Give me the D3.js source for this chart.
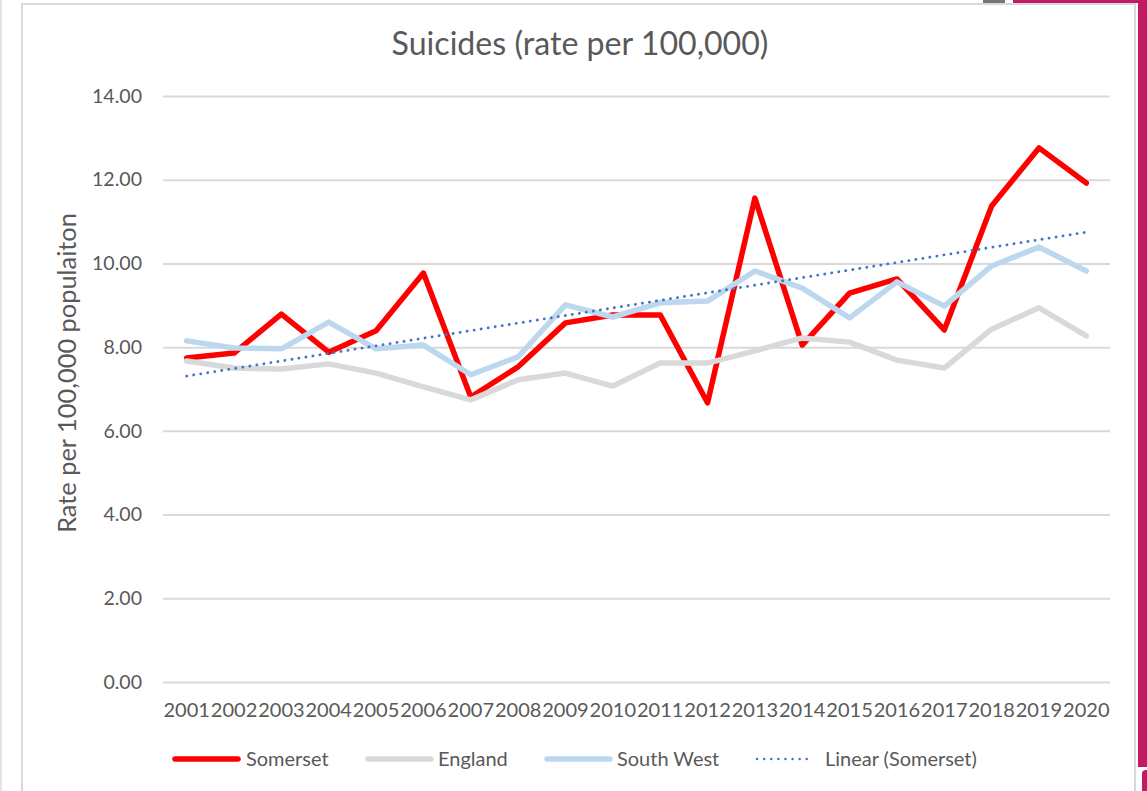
<!DOCTYPE html>
<html>
<head>
<meta charset="utf-8">
<script src="https://cdn.jsdelivr.net/npm/d3@7"></script>
<style>
  body { margin: 0; background: #ffffff; }
  text { font-family: Lato, "Open Sans", sans-serif; fill: #595959; }
</style>
</head>
<body>
<div class="chart"></div>
<script>
// chart values
let years = ["2001","2002","2003","2004","2005","2006","2007","2008","2009","2010",
             "2011","2012","2013","2014","2015","2016","2017","2018","2019","2020"];
let somerset  = [7.74,7.86,8.79,7.88,8.39,9.77,6.81,7.53,8.58,8.77,8.77,6.67,11.56,8.05,9.29,9.63,8.41,11.37,12.76,11.92];
let england   = [7.67,7.50,7.48,7.60,7.38,7.05,6.74,7.22,7.38,7.07,7.62,7.62,7.91,8.22,8.12,7.69,7.50,8.43,8.94,8.27];
let southWest = [8.15,7.98,7.96,8.60,7.96,8.05,7.34,7.77,9.01,8.72,9.06,9.10,9.82,9.41,8.70,9.56,8.98,9.94,10.39,9.82];
let yTicks = [0, 2, 4, 6, 8, 10, 12, 14];
let seriesNames = ["Somerset", "England", "South West", "Linear (Somerset)"];

let svgWidth = 1147;
let svgHeight = 791;
let plot = {left: 163, right: 1110, top: 96, bottom: 682};

let svg = d3.select(".chart").append("svg")
  .attr("width", svgWidth).attr("height", svgHeight)
  .style("display", "block");

// screenshot surroundings
svg.append("rect").attr("x", 0).attr("y", 0).attr("width", 2).attr("height", svgHeight).attr("fill", "#e4e4e4");
svg.append("rect").attr("x", 983).attr("y", 0).attr("width", 22).attr("height", 3).attr("fill", "#767676");
svg.append("rect").attr("x", 1013).attr("y", 0).attr("width", 134).attr("height", 3).attr("fill", "#c31a64");
svg.append("rect").attr("x", 1138).attr("y", 0).attr("width", 9).attr("height", 767).attr("fill", "#c31a64");
svg.append("rect").attr("x", 1142).attr("y", 770).attr("width", 10).attr("height", 30).attr("rx", 4).attr("fill", "#c31a64");

// chart frame
svg.append("rect")
  .attr("x", 22).attr("y", 4).attr("width", 1113).attr("height", 820)
  .attr("fill", "#ffffff").attr("stroke", "#d9d9d9").attr("stroke-width", 2);

// scales
let xBand = d3.scaleBand().domain(years).range([plot.left, plot.right]).padding(0);
let x = d => xBand(d) + xBand.bandwidth() / 2;
let y = d3.scaleLinear().domain([0, 14]).range([plot.bottom, plot.top]);

// fit a text's font size so its width matches a target
function fitFont(sel, target) {
  let fs = parseFloat(sel.attr("font-size"));
  let w = sel.node().getComputedTextLength();
  let size = fs * target / w;
  sel.attr("font-size", size);
  return size;
}

// probe sizes
let probe = svg.append("text").attr("font-size", 20).text("2001");
let yearSize = fitFont(probe, 46.5);
probe.attr("font-size", 20).text("14.00");
let tickSize = fitFont(probe, 50);
probe.remove();

// y axis with gridlines
let leftAxis = d3.axisLeft(y)
  .tickValues(yTicks)
  .tickFormat(d3.format(".2f"))
  .tickSize(-(plot.right - plot.left))
  .tickPadding(21);

let yAxisG = svg.append("g")
  .attr("class", "y-axis")
  .attr("transform", `translate(${plot.left},0)`)
  .call(leftAxis);
yAxisG.select(".domain").remove();
yAxisG.selectAll(".tick line").attr("stroke", "#d9d9d9").attr("stroke-width", 2);
yAxisG.selectAll(".tick text")
  .attr("font-size", tickSize)
  .attr("font-family", "Lato, 'Open Sans', sans-serif")
  .attr("fill", "#595959");

// x axis labels
let bottomAxis = d3.axisBottom(xBand).tickSize(0).tickPadding(0);
let xAxisG = svg.append("g")
  .attr("class", "x-axis")
  .attr("transform", `translate(0,${plot.bottom})`)
  .call(bottomAxis);
xAxisG.select(".domain").remove();
xAxisG.selectAll(".tick text")
  .attr("y", 35).attr("dy", null)
  .attr("font-size", yearSize)
  .attr("font-family", "Lato, 'Open Sans', sans-serif")
  .attr("fill", "#595959");

// lines
let line = d3.line()
  .x((d, i) => x(years[i]))
  .y(d => y(d));

let series = [
  {name: "Somerset", values: somerset, color: "#ff0000"},
  {name: "England", values: england, color: "#d9d9d9"},
  {name: "South West", values: southWest, color: "#bdd7ee"}
];

series.forEach(function(s) {
  svg.append("path")
    .datum(s.values)
    .attr("d", line)
    .attr("fill", "none")
    .attr("stroke", s.color)
    .attr("stroke-width", 5.5)
    .attr("stroke-linejoin", "round")
    .attr("stroke-linecap", "round");
});

// linear trend for Somerset (least squares)
let idx = somerset.map((d, i) => i + 1);
let mx = d3.mean(idx), my = d3.mean(somerset);
let slope = d3.sum(idx, (d, i) => (d - mx) * (somerset[i] - my)) / d3.sum(idx, d => (d - mx) * (d - mx));
let intercept = my - slope * mx;
let trend = idx.map(d => intercept + slope * d);

svg.append("path")
  .datum(trend)
  .attr("d", line)
  .attr("fill", "none")
  .attr("stroke", "#4472c4")
  .attr("stroke-width", 2.8)
  .attr("stroke-linecap", "round")
  .attr("stroke-dasharray", "0.1 7");

// title
let title = svg.append("text")
  .attr("x", 580).attr("y", 55)
  .attr("text-anchor", "middle")
  .attr("font-size", 26)
  .text("Suicides (rate per 100,000)");
fitFont(title, 377);

// y axis title
let yTitle = svg.append("text")
  .attr("transform", "translate(76,373) rotate(-90)")
  .attr("text-anchor", "middle")
  .attr("font-size", 20)
  .text("Rate per 100,000 populaiton");
fitFont(yTitle, 320);

// legend
let legendItems = [
  {name: seriesNames[0], color: "#ff0000", x1: 175, x2: 238, tx: 246, dotted: false},
  {name: seriesNames[1], color: "#d9d9d9", x1: 368, x2: 431, tx: 438, dotted: false},
  {name: seriesNames[2], color: "#bdd7ee", x1: 547, x2: 610, tx: 617, dotted: false},
  {name: seriesNames[3], color: "#4472c4", x1: 757, x2: 813, tx: 825, dotted: true}
];

let legendSize = null;
let legend = svg.append("g").attr("class", "legend");
legendItems.forEach(function(d) {
  let ln = legend.append("line")
    .attr("x1", d.x1).attr("x2", d.x2)
    .attr("y1", 759).attr("y2", 759)
    .attr("stroke", d.color)
    .attr("stroke-linecap", "round");
  if (d.dotted) {
    ln.attr("stroke-width", 2.4).attr("stroke-dasharray", "0.1 7");
  } else {
    ln.attr("stroke-width", 5.5);
  }
  let t = legend.append("text")
    .attr("x", d.tx).attr("y", 766)
    .attr("font-size", 20)
    .text(d.name);
  if (d.dotted) legendSize = fitFont(t, 152);
});
legend.selectAll("text").attr("font-size", legendSize);
</script>
</body>
</html>
